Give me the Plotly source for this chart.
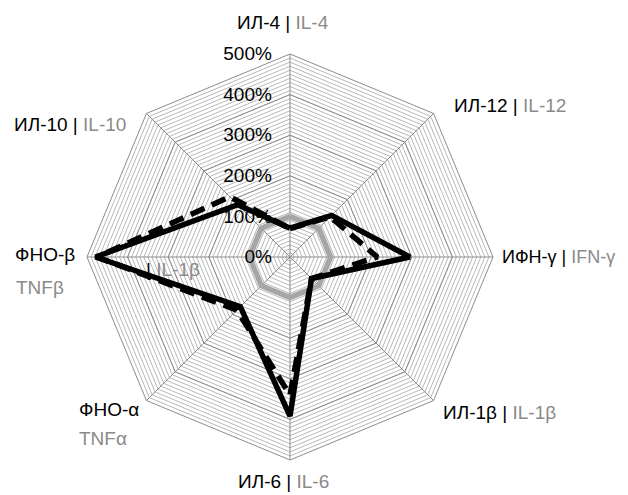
import plotly.graph_objects as go

# ---- data ----
categories = ["IL-4", "IL-12", "IFN-γ", "IL-1β", "IL-6", "TNFα", "TNFβ", "IL-10"]
labels_ru = ["ИЛ-4", "ИЛ-12", "ИФН-γ", "ИЛ-1β", "ИЛ-6", "ФНО-α", "ФНО-β", "ИЛ-10"]
labels_en = ["IL-4", "IL-12", "IFN-γ", "IL-1β", "IL-6", "TNFα", "TNFβ", "IL-10"]
solid_vals = [71, 145, 295, 75, 392, 173, 479, 182]
dashed_vals = [70, 140, 215, 75, 340, 185, 475, 210]
control_vals = [100, 100, 100, 100, 100, 100, 100, 100]
radial_tickvals = [0, 100, 200, 300, 400, 500]
radial_ticktext = ["0%", "100%", "200%", "300%", "400%", "500%"]

FONT = "Liberation Sans, Arial, sans-serif"
FS = 19
GRAY_TXT = "#8a8a8a"
BLACK = "#000000"

# the page body has an 8px margin: lay out in page pixels, convert to figure
OFF = 8
W, H = 628 - OFF, 495 - OFF


def px(xp):
    return (xp - OFF) / W


def py(yp):
    return 1 - (yp - OFF) / H


def closed(seq):
    return list(seq) + [seq[0]]


fig = go.Figure()

# invisible trace to activate the background (minor-grid) subplot
fig.add_trace(go.Scatterpolar(r=[0], theta=[categories[0]], mode="markers",
                              marker=dict(opacity=0), showlegend=False,
                              hoverinfo="skip", subplot="polar"))

fig.add_trace(go.Scatterpolar(r=closed(control_vals), theta=closed(categories),
                              mode="lines", line=dict(color="#a6a6a6", width=5.5),
                              showlegend=False, subplot="polar2"))
fig.add_trace(go.Scatterpolar(r=closed(dashed_vals), theta=closed(categories),
                              mode="lines", line=dict(color=BLACK, width=5.5, dash="15px,8px"),
                              showlegend=False, subplot="polar2"))
fig.add_trace(go.Scatterpolar(r=closed(solid_vals), theta=closed(categories),
                              mode="lines", line=dict(color=BLACK, width=5.5),
                              showlegend=False, subplot="polar2"))

cx, cy, R = 290, 257, 203
dom_x = [px(cx - R), px(cx + R)]
dom_y = [py(cy + R), py(cy - R)]

common_ang = dict(type="category", categoryarray=categories, direction="clockwise",
                  rotation=90, showticklabels=False, ticks="")

fig.update_layout(
    width=W, height=H,
    margin=dict(l=0, r=0, t=0, b=0),
    paper_bgcolor="white",
    showlegend=False,
    font=dict(family=FONT, size=FS, color=BLACK),
    polar=dict(
        domain=dict(x=dom_x, y=dom_y),
        gridshape="linear",
        bgcolor="white",
        radialaxis=dict(range=[0, 500], dtick=10, showticklabels=False, ticks="",
                        showline=False, gridcolor="#b8b8b8", gridwidth=1),
        angularaxis=dict(**common_ang, showgrid=False, showline=False),
    ),
    polar2=dict(
        domain=dict(x=dom_x, y=dom_y),
        gridshape="linear",
        bgcolor="rgba(0,0,0,0)",
        radialaxis=dict(range=[0, 500], tickvals=radial_tickvals, ticktext=radial_ticktext,
                        angle=90, tickangle=90, side="counterclockwise",
                        ticks="outside", ticklen=11, tickcolor="rgba(0,0,0,0)",
                        showline=False, gridcolor="#8c8c8c", gridwidth=1,
                        tickfont=dict(size=FS, color=BLACK)),
        angularaxis=dict(**common_ang, showgrid=True, gridcolor="#8c8c8c", gridwidth=1,
                         showline=True, linecolor="#8c8c8c", linewidth=1),
    ),
)


def lab(i):
    return f"{labels_ru[i]} | <span style='color:{GRAY_TXT}'>{labels_en[i]}</span>"


def gray(s):
    return f"<span style='color:{GRAY_TXT}'>{s}</span>"


ann = [
    dict(text=lab(0), x=px(283), y=py(23), xanchor="center"),
    dict(text=lab(1), x=px(452), y=py(105), xanchor="left"),
    dict(text=lab(2), x=px(617), y=py(257), xanchor="right", size=18),
    dict(text=lab(3), x=px(441), y=py(412), xanchor="left"),
    dict(text=lab(4), x=px(283), y=py(481), xanchor="center"),
    dict(text=labels_ru[5], x=px(77), y=py(409), xanchor="left"),
    dict(text=gray(labels_en[5]), x=px(77), y=py(438), xanchor="left"),
    dict(text=labels_ru[6], x=px(13), y=py(254), xanchor="left"),
    dict(text=gray(labels_en[6]), x=px(14), y=py(287), xanchor="left"),
    dict(text=lab(7), x=px(12), y=py(125), xanchor="left"),
    dict(text="| " + gray(labels_en[3]), x=px(144), y=py(269), xanchor="left"),
]
for a in ann:
    size = a.pop("size", FS)
    a.update(xref="paper", yref="paper", yanchor="middle", showarrow=False,
             font=dict(family=FONT, size=size, color=BLACK))
fig.update_layout(annotations=ann)

fig.write_html("out.html")
